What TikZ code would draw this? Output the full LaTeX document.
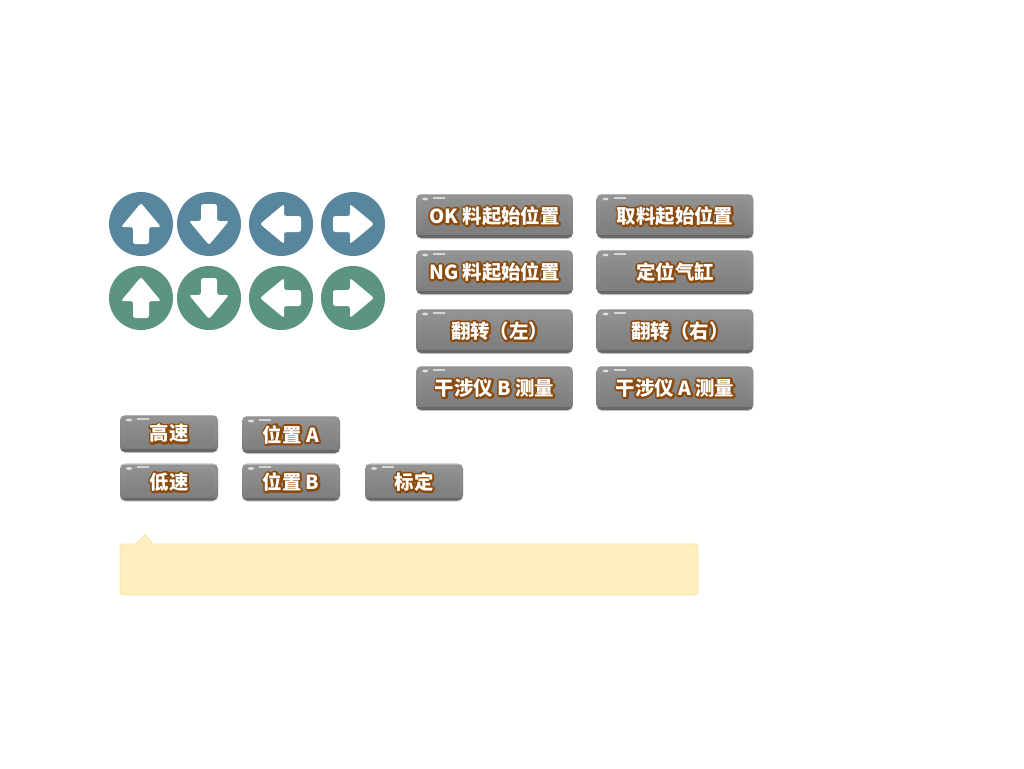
\documentclass[tikz,border=0pt]{standalone}
\usepackage{fontspec}
\usetikzlibrary{shadows}
\setmainfont{Noto Sans CJK SC}
\definecolor{discblue}{HTML}{58869F}
\definecolor{discgreen}{HTML}{5B9581}
\definecolor{btnedge}{HTML}{8B4A0B}
\definecolor{noteback}{HTML}{FEEFBE}
\definecolor{noteline}{HTML}{F8E2A8}
% texto blanco con contorno marron
\newcommand{\btnlabel}[1]{\bfseries\rlap{\textcolor{btnedge}{\special{pdf:code 2 Tr 2.8 w 1 j 0.545 0.29 0.043 RG}#1\special{pdf:code 0 Tr 0 j 1 w}}}\textcolor{white}{#1}}
\tikzset{
    disc/.style={circle, inner sep=0pt, minimum size=16mm},
    btn/.style={rounded corners=1.3mm, inner sep=0pt, font=\fontsize{13.8pt}{16pt}\selectfont,
        top color=gray!84, bottom color=black!52,
        drop shadow={shadow xshift=0mm, shadow yshift=-0.25mm, opacity=.2, fill=black},
        path picture={
            \fill[black, opacity=.16, sharp corners] ([yshift=0.7mm]path picture bounding box.south west) rectangle (path picture bounding box.south east);
            \fill[white, opacity=.3, sharp corners] (path picture bounding box.north west) rectangle ([yshift=-0.3mm]path picture bounding box.north east);
            \draw[white, opacity=.06, rounded corners=1.5mm, line width=0.25mm] ([shift={(3,4)}]path picture bounding box.north west) rectangle ([shift={(-3,-6)}]path picture bounding box.south east);
            \fill[white, opacity=.7, sharp corners, rotate around={20:([shift={(9,5)}]path picture bounding box.north west)}] ([shift={(9,5)}]path picture bounding box.north west) ellipse (0.75mm and 0.35mm);
            \fill[white, opacity=.6, sharp corners] ([shift={(17,2.5)}]path picture bounding box.north west) rectangle ([shift={(29,4.5)}]path picture bounding box.north west);
        }},
    btnwide/.style={btn, minimum width=39.2mm, minimum height=11mm},
    btnsmall/.style={btn, minimum width=24.5mm, minimum height=9.25mm}
}
\begin{document}
\begin{tikzpicture}[x=0.25mm, y=-0.25mm]
    \useasboundingbox[fill=white] (0,0) rectangle (1024,768);

    % Discos con flechas
    \foreach \y/\col/\row in {224/discblue/a,298/discgreen/b} {
        \foreach \x/\dirname/\rot in {141/up/0,209/down/180,281/left/90,353/right/-90} {
            \node[disc, fill=\col] (\dirname\row) at (\x,\y) {};
            \fill[white, rounded corners=0.6mm, shift={(\dirname\row.center)}, rotate=\rot]
                (0,-21) -- (20,3) -- (8,3) -- (8,20) -- (-8,20) -- (-8,3) -- (-20,3) -- cycle;
        }
    }

    % Botones grandes
    \foreach \x/\y/\name/\txt in {
        494.5/216/okstart/OK 料起始位置,
        675/216/takestart/取料起始位置,
        494.5/272/ngstart/NG 料起始位置,
        675/272/cylinder/定位气缸,
        494.5/331/flipleft/\kern2.5mm 翻转（左）,
        675/331/flipright/\kern2.5mm 翻转（右）,
        494.5/388/measureb/干涉仪 B 测量,
        675/388/measurea/干涉仪 A 测量} {
        \node[btnwide] (\name) at (\x,\y) {\raisebox{-0.5mm}{\btnlabel{\txt}}};
    }

    % Botones pequenos
    \foreach \x/\y/\name/\txt in {
        169/433.5/highspeed/高速,
        291/434.5/posa/位置 A,
        169/482/lowspeed/低速,
        291/482/posb/位置 B,
        414/482/calib/标定} {
        \node[btnsmall] (\name) at (\x,\y) {\raisebox{-0.4mm}{\btnlabel{\txt}}};
    }

    % Nota
    \draw[fill=noteback, draw=noteline, line width=0.2mm]
        (137,544) -- (145,534.5) -- (153,544) [rounded corners=0.8mm] -- (698,544) -- (698,595) -- (120,595) -- (120,544) -- cycle;
\end{tikzpicture}
\end{document}
